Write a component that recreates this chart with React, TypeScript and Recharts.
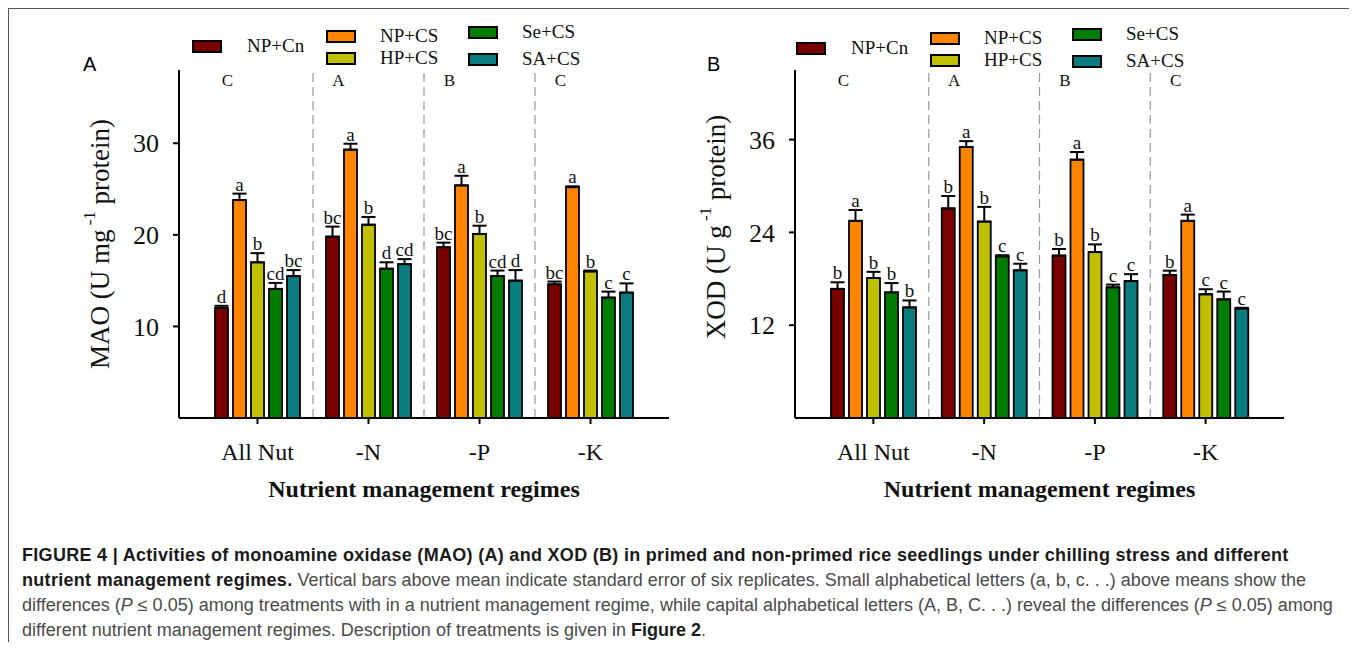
import React from 'react';
import {
  BarChart,
  Bar,
  XAxis,
  YAxis,
  ErrorBar,
  LabelList,
  ReferenceLine,
  Label,
} from 'recharts';

const SERIF = '"Liberation Serif", "Times New Roman", serif';
const SANS = '"Liberation Sans", Arial, sans-serif';

const REGIMES = ['All Nut', '-N', '-P', '-K'];
const REGIME_GROUPS = ['C', 'A', 'B', 'C'];
const TREATMENTS = ['NP+Cn', 'NP+CS', 'HP+CS', 'Se+CS', 'SA+CS'];
const COLORS = ['#7a0000', '#ff8400', '#c0c000', '#007d00', '#0a7c80'];

// MAO, one array per treatment (All Nut, -N, -P, -K)
const MAO_VALUES = [
  [12.0, 19.8, 18.65, 14.6],
  [23.8, 29.3, 25.4, 25.2],
  [17.0, 21.1, 20.1, 16.0],
  [14.1, 16.3, 15.5, 13.15],
  [15.5, 16.8, 15.0, 13.7],
];
const MAO_ERRORS = [
  [0.25, 1.1, 0.5, 0.3],
  [0.7, 0.65, 1.05, 0.1],
  [1.0, 0.85, 0.9, 0.1],
  [0.65, 0.7, 0.6, 0.65],
  [0.65, 0.55, 1.15, 1.0],
];
const MAO_LETTERS = [
  ['d', 'bc', 'bc', 'bc'],
  ['a', 'a', 'a', 'a'],
  ['b', 'b', 'b', 'b'],
  ['cd', 'd', 'cd', 'c'],
  ['bc', 'cd', 'd', 'c'],
];

// XOD
const XOD_VALUES = [
  [16.7, 27.1, 21.0, 18.5],
  [25.5, 35.05, 33.4, 25.5],
  [18.1, 25.4, 21.45, 16.0],
  [16.25, 20.9, 16.9, 15.35],
  [14.3, 19.1, 17.7, 14.15],
];
const XOD_ERRORS = [
  [0.85, 1.6, 0.85, 0.55],
  [1.4, 0.75, 1.0, 0.8],
  [0.8, 1.9, 1.0, 0.65],
  [1.2, 0.15, 0.35, 1.0],
  [0.9, 0.85, 0.9, 0.1],
];
const XOD_LETTERS = [
  ['b', 'b', 'b', 'b'],
  ['a', 'a', 'a', 'a'],
  ['b', 'b', 'b', 'c'],
  ['b', 'c', 'c', 'c'],
  ['b', 'c', 'c', 'c'],
];

const MAO_TICKS = [10, 20, 30];
const XOD_TICKS = [12, 24, 36];

const buildRows = (values: number[][], errors: number[][], letters: string[][]) =>
  REGIMES.map((regime, r) => {
    const row: any = { regime };
    TREATMENTS.forEach((_, i) => {
      row[`v${i}`] = values[i][r];
      row[`e${i}`] = [0, errors[i][r]];
      row[`l${i}`] = letters[i][r];
    });
    return row;
  });

// legend layout (container coords), col 1 alone, cols 2/3 stacked
const LEGEND_POS = [
  { x: 0, y: 14 },
  { x: 134, y: 4 },
  { x: 134, y: 26 },
  { x: 276, y: 0 },
  { x: 276, y: 27 },
];

const Legend = ({ left, top }: { left: number; top: number }) => (
  <>
    {TREATMENTS.map((t, i) => (
      <React.Fragment key={t}>
        <div
          style={{
            position: 'absolute',
            left: left + LEGEND_POS[i].x,
            top: top + LEGEND_POS[i].y,
            width: 30,
            height: 13,
            boxSizing: 'border-box',
            border: '2px solid #000',
            background: COLORS[i],
          }}
        />
        <div
          style={{
            position: 'absolute',
            left: left + LEGEND_POS[i].x + (i === 0 ? 55 : 54),
            top: top + LEGEND_POS[i].y - 6,
            height: 24,
            lineHeight: '24px',
            fontSize: 19,
            fontFamily: SERIF,
            color: '#111',
            whiteSpace: 'nowrap',
          }}
        >
          {t}
        </div>
      </React.Fragment>
    ))}
  </>
);

interface PanelProps {
  rows: any[];
  max: number;
  ticks: number[];
  title: string;
  unit: string;
  width: number;
  marginLeft: number;
  marginRight: number;
  titleShift: number;
}

const Panel = ({ rows, max, ticks, title, unit, width, marginLeft, marginRight, titleShift }: PanelProps) => {
  const letterLabel = (i: number) => (p: any) => {
    const vb = p.viewBox ?? p;
    const x = vb.x ?? p.x;
    const y = vb.y ?? p.y;
    const w = vb.width ?? p.width;
    const h = vb.height ?? p.height;
    const row = rows[p.index];
    if (!row) return null;
    const top = y - (row[`e${i}`][1] * h) / row[`v${i}`];
    return (
      <text
        x={x + w / 2}
        y={top - 3}
        textAnchor="middle"
        fontSize={19}
        fontFamily={SERIF}
        fill="#111"
      >
        {row[`l${i}`]}
      </text>
    );
  };

  return (
    <BarChart
      width={width}
      height={520}
      data={rows}
      margin={{ top: 62, right: marginRight, bottom: 50, left: marginLeft }}
      barGap={5}
      barSize={13}
    >
      <XAxis
        dataKey="regime"
        interval={0}
        padding={{ left: 23, right: 23 }}
        height={60}
        tickSize={6}
        tickMargin={19}
        axisLine={{ stroke: '#000', strokeWidth: 2 }}
        tickLine={{ stroke: '#000', strokeWidth: 2 }}
        tick={{ fontSize: 24, fill: '#111', fontFamily: SERIF }}
      >
        <Label
          content={(p: any) => {
            const vb = p.viewBox;
            return (
              <text
                x={vb.x + vb.width / 2}
                y={vb.y + 79}
                textAnchor="middle"
                fontSize={24}
                fontWeight="bold"
                fontFamily={SERIF}
                fill="#111"
              >
                Nutrient management regimes
              </text>
            );
          }}
        />
      </XAxis>
      <XAxis
        xAxisId="top"
        orientation="top"
        dataKey="regime"
        height={0}
        tick={false}
        tickLine={false}
        axisLine={{ stroke: '#000', strokeWidth: 2 }}
      />
      <YAxis
        domain={[0, max]}
        ticks={ticks}
        width={100}
        tickSize={6}
        tickMargin={14}
        axisLine={{ stroke: '#000', strokeWidth: 2 }}
        tickLine={{ stroke: '#000', strokeWidth: 2 }}
        tick={{ fontSize: 26, fill: '#111', fontFamily: SERIF }}
      >
        <Label
          content={(p: any) => {
            const vb = p.viewBox;
            const cx = vb.x + 21;
            const cy = vb.y + vb.height / 2 + titleShift;
            return (
              <text
                x={cx}
                y={cy}
                transform={`rotate(-90, ${cx}, ${cy})`}
                textAnchor="middle"
                dominantBaseline="central"
                fontSize={27}
                fontFamily={SERIF}
                fill="#111"
              >
                {title} (U {unit}
                <tspan dy={-11} fontSize={17}>
                  {' -1'}
                </tspan>
                <tspan dy={11}>{'  protein)'}</tspan>
              </text>
            );
          }}
        />
      </YAxis>
      <YAxis
        yAxisId="right"
        orientation="right"
        domain={[0, max]}
        width={0}
        tick={false}
        tickLine={false}
        axisLine={{ stroke: '#000', strokeWidth: 2 }}
      />
      {REGIMES.slice(1).map((r) => (
        <ReferenceLine
          key={`sep-${r}`}
          x={r}
          position="start"
          stroke="#999"
          strokeWidth={1.2}
          strokeDasharray="9 5"
        />
      ))}
      {REGIMES.map((r, k) => (
        <ReferenceLine
          key={`grp-${r}`}
          x={r}
          stroke="none"
          label={(p: any) => (
            <text
              x={p.viewBox.x - 30}
              y={p.viewBox.y + 16}
              textAnchor="middle"
              fontSize={17}
              fontFamily={SERIF}
              fill="#111"
            >
              {REGIME_GROUPS[k]}
            </text>
          )}
        />
      ))}
      {TREATMENTS.map((t, i) => (
        <Bar
          key={t}
          dataKey={`v${i}`}
          name={t}
          fill={COLORS[i]}
          stroke="#000"
          strokeWidth={1.8}
          isAnimationActive={false}
        >
          <ErrorBar dataKey={`e${i}`} direction="y" width={7} stroke="#000" strokeWidth={2} />
          <LabelList dataKey={`l${i}`} content={letterLabel(i)} />
        </Bar>
      ))}
    </BarChart>
  );
};

const maoRows = buildRows(MAO_VALUES, MAO_ERRORS, MAO_LETTERS);
const xodRows = buildRows(XOD_VALUES, XOD_ERRORS, XOD_LETTERS);

export default function App() {
  return (
    <div style={{ position: 'relative', width: 1347, height: 634 }}>
      <div
        style={{
          position: 'absolute',
          left: 0,
          top: 0,
          width: 1347,
          height: 634,
          boxSizing: 'border-box',
          borderTop: '1px solid #555',
          borderLeft: '1px solid #555',
          borderRight: '1px solid #555',
        }}
      />
      <div style={{ position: 'absolute', left: 0, top: 0 }}>
        <Panel
          rows={maoRows}
          max={38}
          ticks={MAO_TICKS}
          title="MAO"
          unit="mg"
          width={672}
          marginLeft={71}
          marginRight={11}
          titleShift={0}
        />
      </div>
      <div style={{ position: 'absolute', left: 672, top: 0 }}>
        <Panel
          rows={xodRows}
          max={45}
          ticks={XOD_TICKS}
          title="XOD"
          unit="g"
          width={620}
          marginLeft={15}
          marginRight={16}
          titleShift={-17}
        />
      </div>
      <div style={{ position: 'absolute', left: 75, top: 46, fontFamily: SANS, fontSize: 20, lineHeight: '20px' }}>A</div>
      <div style={{ position: 'absolute', left: 699, top: 46, fontFamily: SANS, fontSize: 20, lineHeight: '20px' }}>B</div>
      <Legend left={184} top={18} />
      <Legend left={788} top={20} />
      <div
        style={{
          position: 'absolute',
          left: 14,
          top: 535,
          fontFamily: SANS,
          fontSize: 18,
          lineHeight: '25px',
          color: '#4a4a4a',
          whiteSpace: 'nowrap',
        }}
      >
        <b style={{ color: '#1a1a1a', letterSpacing: '0.3px' }}>
          FIGURE 4 | Activities of monoamine oxidase (MAO) (A) and XOD (B) in primed and non-primed rice seedlings under chilling stress and different
        </b>
        <br />
        <b style={{ color: '#1a1a1a', letterSpacing: '0.3px' }}>nutrient management regimes.</b> Vertical bars above mean indicate standard error of six replicates. Small alphabetical letters (a, b, c. . .) above means show the
        <br />
        differences (<i>P</i> ≤ 0.05) among treatments with in a nutrient management regime, while capital alphabetical letters (A, B, C. . .) reveal the differences (<i>P</i> ≤ 0.05) among
        <br />
        different nutrient management regimes. Description of treatments is given in <b style={{ color: '#1a1a1a' }}>Figure 2</b>.
      </div>
    </div>
  );
}
